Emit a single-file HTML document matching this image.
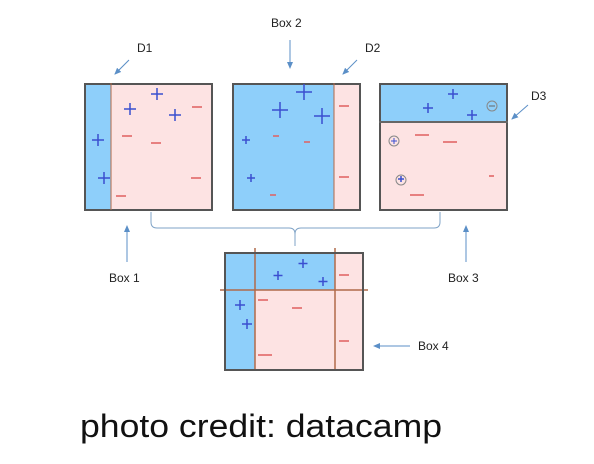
<!DOCTYPE html>
<html><head><style>body{margin:0;background:#fff}svg{display:block}</style></head><body>
<svg width="594" height="464" xmlns="http://www.w3.org/2000/svg" font-family="Liberation Sans, sans-serif">
<defs><marker id="a" markerWidth="8" markerHeight="8" refX="6" refY="4" orient="auto"><path d="M0,1 L7,4 L0,7z" fill="#5b8fc7"/></marker></defs>
<g stroke="#555" stroke-width="2">
<rect x="85" y="84" width="127" height="126" fill="#fde3e3"/>
<rect x="86" y="85" width="25" height="124" fill="#8ecffa" stroke="none"/>
<line x1="111" y1="83" x2="111" y2="210" stroke="#b06a4a" stroke-width="1"/>
<rect x="233" y="84" width="127" height="126" fill="#fde3e3"/>
<rect x="234" y="85" width="100" height="124" fill="#8ecffa" stroke="none"/>
<line x1="334" y1="83" x2="334" y2="210" stroke="#b06a4a" stroke-width="1"/>
<rect x="380" y="84" width="127" height="126" fill="#fde3e3"/>
<rect x="381" y="85" width="125" height="37" fill="#8ecffa" stroke="none"/>
<line x1="379" y1="122" x2="508" y2="122" stroke="#666" stroke-width="2"/>
<rect x="225" y="253" width="138" height="117" fill="#fde3e3"/>
<rect x="226" y="254" width="29" height="115" fill="#8ecffa" stroke="none"/>
<rect x="255" y="254" width="80" height="36" fill="#8ecffa" stroke="none"/>
</g>
<g stroke="#b06a4a" stroke-width="1.5">
<line x1="255" y1="248" x2="255" y2="371"/><line x1="335" y1="248" x2="335" y2="371"/>
<line x1="220" y1="290" x2="368" y2="290"/>
</g>
<rect x="225" y="253" width="138" height="117" fill="none" stroke="#555" stroke-width="2"/>
<g stroke="#3a4fd0" stroke-width="1.5">
<path d="M157,88v12M151,94h12M130,103v12M124,109h12M175,109v12M169,115h12M98,134v12M92,140h12M104,172v12M98,178h12"/>
<path d="M304,84v16M296,92h16M280,102v16M272,110h16M322,108v16M314,116h16M246,136v8M242,140h8M251,174v8M247,178h8"/>
<path d="M453,89v10M448,94h10M428,103v10M423,108h10M472,110v10M467,115h10M401,176v6M398,179h6"/>
<path d="M303,259v9M298.5,263.5h9M278,271v9M273.5,275.5h9M323,277v9M318.5,281.5h9M240,300v10M235,305h10M247,319v10M242,324h10"/>
</g>
<g stroke="#e06060" stroke-width="1.5">
<path d="M192,107h10M122,136h10M151,143h10M191,178h10M116,196h10M339,106h10M273,136h6M304,142h6M339,177h10M270,195h6M415,135h14M443,142h14M410,195h14M489,176h5M339,275h10M258,300h10M292,308h10M339,341h10M258,355h14"/>
</g>
<g fill="none" stroke="#888" stroke-width="1"><circle cx="492" cy="106" r="5"/><circle cx="394" cy="141" r="5"/><circle cx="401" cy="180" r="5"/></g>
<path d="M489,106h6" stroke="#666"/><path d="M391,141h6M394,138v6" stroke="#3a4fd0"/>
<path d="M151,212 v10 q0,6 6,6 h132 q6,0 6,6 v12 M295,234 q0,-6 6,-6 h133 q6,0 6,-6 v-10" fill="none" stroke="#7fa3c7" stroke-width="1"/>
<g stroke="#5b8fc7" stroke-width="1" marker-end="url(#a)">
<line x1="129" y1="60" x2="115" y2="74"/><line x1="357" y1="60" x2="343" y2="74"/>
<line x1="290" y1="40" x2="290" y2="68"/><line x1="528" y1="105" x2="512" y2="119"/>
<line x1="127" y1="262" x2="127" y2="226"/><line x1="466" y1="262" x2="466" y2="226"/>
<line x1="410" y1="346" x2="374" y2="346"/>
</g>
<g font-size="12" fill="#222">
<text x="137" y="52">D1</text><text x="365" y="52">D2</text><text x="531" y="100">D3</text>
<text x="271" y="27">Box 2</text><text x="109" y="282">Box 1</text><text x="448" y="282">Box 3</text><text x="418" y="350">Box 4</text>
</g>
<text x="80" y="437" font-size="32" fill="#111" textLength="362" lengthAdjust="spacingAndGlyphs">photo credit: datacamp</text>
</svg>
</body></html>
